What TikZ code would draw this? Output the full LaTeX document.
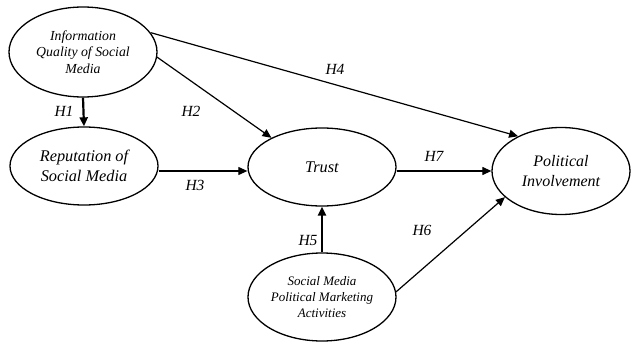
\documentclass[tikz,border=0pt]{standalone}
\usepackage{fontspec}
\setmainfont{Liberation Serif}
\usetikzlibrary{shapes.geometric,arrows.meta}
\tikzset{
  construct/.style={draw, ellipse, line width=1.3pt, inner sep=0pt, align=center, font=\itshape},
  link/.style={line width=1.2pt, -{Triangle[length=9pt,width=8pt]}},
  thicklink/.style={line width=2.2pt, -{Triangle[length=9pt,width=8pt]}},
  hlabel/.style={font=\fontsize{15.5}{17}\selectfont\itshape, inner sep=0pt}
}
\begin{document}
\begin{tikzpicture}[x=1pt,y=-1pt]
\useasboundingbox (0,0) rectangle (632,342);
\node[construct, minimum width=148pt, minimum height=90pt, font=\fontsize{13.8}{16.5}\selectfont\itshape] (iq) at (83,52) {Information\\Quality of Social\\Media};
\node[construct, minimum width=148pt, minimum height=78pt, font=\fontsize{16.3}{19.5}\selectfont\itshape] (rep) at (84,166) {Reputation of\\Social Media};
\node[construct, minimum width=148pt, minimum height=78pt, font=\fontsize{16.3}{19.5}\selectfont\itshape] (tr) at (322,167) {Trust};
\node[construct, minimum width=138pt, minimum height=87pt, font=\fontsize{16}{19.5}\selectfont\itshape] (pi) at (561,171) {Political\\Involvement};
\node[construct, minimum width=148pt, minimum height=88pt, font=\fontsize{13}{16}\selectfont\itshape] (sm) at (322,297) {Social Media\\Political Marketing\\Activities};

\draw[thicklink] (iq.south) -- (rep.north);
\draw[link] (iq.-4) -- (tr.150);
\draw[link] (iq.16) -- (pi.141);
\draw[link] (rep.east |- 0,171) -- (tr.west |- 0,171);
\draw[link] (tr.east |- 0,171) -- (pi.west |- 0,171);
\draw[thicklink] (sm.north) -- (tr.south);
\draw[link] (sm.4) -- (pi.-155);

\node[hlabel] (h1) at (64,111) {H1};
\node[hlabel] (h2) at (191,111) {H2};
\node[hlabel] (h3) at (195,185) {H3};
\node[hlabel] (h4) at (335,69) {H4};
\node[hlabel] (h5) at (308,241) {H5};
\node[hlabel] (h6) at (422,230) {H6};
\node[hlabel] (h7) at (434,156) {H7};
\end{tikzpicture}
\end{document}
